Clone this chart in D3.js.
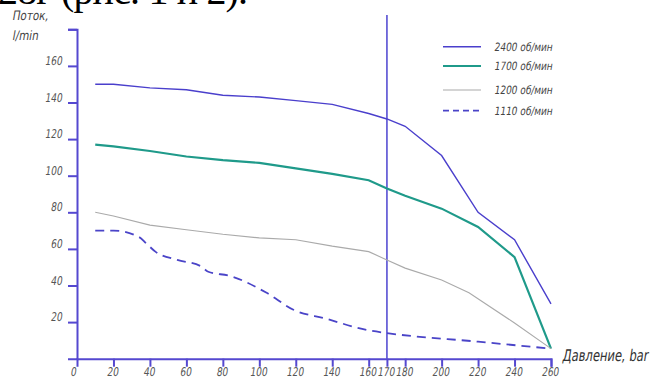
<!DOCTYPE html>
<html><head><meta charset="utf-8">
<script src="https://cdn.jsdelivr.net/npm/d3@7"></script>
<style>
html,body{margin:0;padding:0;background:#fff;}
svg{display:block;}
.t{font-family:"DejaVu Sans",sans-serif;}
</style></head>
<body><svg id="c" width="651" height="378"></svg>
<script>
const xTicks = [20,40,60,80,100,120,140,160,170,180,200,220,240,260];
const yTicks = [20,40,60,80,100,120,140,160];
const seriesNames = ["2400 об/мин","1700 об/мин","1200 об/мин","1110 об/мин"];
const s2400 = [[10,150],[20,150],[40,148],[60,147],[80,144],[100,143],[120,141],[140,139],[160,134],[170,131],[180,127],[200,111],[220,80],[240,65],[260,30]];
const s1700 = [[10,117],[20,116],[40,113.5],[60,110.5],[80,108.5],[100,107],[120,104],[140,101],[160,97.5],[170,93],[180,89],[200,82],[220,72],[240,55.5],[260,5.5]];
const s1200 = [[10,80],[20,78],[40,73],[60,70.5],[80,68],[100,66],[120,65],[140,61.5],[160,58.5],[170,54],[180,49.5],[200,43],[215,36],[240,19.5],[260,5.5]];
const s1110 = [[10,70],[20,70],[34,66.5],[38,63],[43,58.5],[55,54],[68,50.5],[72,47.5],[84,45.2],[104,36],[119,26.6],[136,22],[160,15.5],[170,14],[220,9.3],[260,5.5]];
const title = "28г (рис. 1 и 2).";

const svg = d3.select("#c");
const x = d3.scaleLinear().domain([0,260]).range([77,551]);
const y = d3.scaleLinear().domain([0,180]).range([358.7,29.3]);
const axisCol = "#5548d0";

function ntext(px, py, str, size, anchor, fill, sx){
  return svg.append("text").attr("class","t")
    .attr("transform",`translate(${px},${py}) scale(${sx||0.75},1) skewX(-12)`)
    .attr("text-anchor",anchor||"start").attr("font-size",size).attr("fill",fill).text(str);
}

// header text (cut off)
svg.append("text").attr("x",-2).attr("y",4).attr("font-family","Liberation Serif, Times New Roman, serif")
  .attr("font-size",40).attr("fill","#000").attr("textLength",250).attr("lengthAdjust","spacing").text(title);

// vertical marker at 170
svg.append("line").attr("x1",x(170)).attr("x2",x(170)).attr("y1",15).attr("y2",y(0))
  .attr("stroke","#6a62d8").attr("stroke-width",1.8);

// axes
const gy = svg.append("g").attr("transform",`translate(${x(0)},0)`)
  .call(d3.axisLeft(y).tickValues([...yTicks,180]).tickSize(9).tickFormat(""));
gy.select(".domain").attr("stroke",axisCol).attr("stroke-width",2);
gy.selectAll(".tick line").attr("stroke",axisCol).attr("stroke-width",2);
const gx = svg.append("g").attr("transform",`translate(0,${y(0)})`)
  .call(d3.axisBottom(x).tickValues(xTicks).tickSize(8).tickFormat(""));
gx.select(".domain").attr("stroke",axisCol).attr("stroke-width",2);
gx.selectAll(".tick line").attr("stroke",axisCol).attr("stroke-width",2);

// tick labels
yTicks.forEach(d=>ntext(62, y(d)-1, d, 12, "end", "#555"));
[0,...xTicks].forEach(d=>ntext(d===0?73:x(d)-1, 376, d, 12, "middle", "#555"));

ntext(12, 20, "Поток,", 13, "start", "#444", 0.8);
ntext(12, 40, "l/min", 13, "start", "#444", 0.8);
ntext(562, 361, "Давление, bar", 16, "start", "#333", 0.72);

// lines
const line = d3.line().x(d=>x(d[0])).y(d=>y(d[1]));
const smooth = d3.line().x(d=>x(d[0])).y(d=>y(d[1])).curve(d3.curveMonotoneX);
const styles = [
  {data:s2400,col:"#4a3fcc",w:1.4,dash:null,gen:line},
  {data:s1700,col:"#1f9a8a",w:2.2,dash:null,gen:line},
  {data:s1200,col:"#aaaaaa",w:1.1,dash:null,gen:line},
  {data:s1110,col:"#4a44c8",w:1.8,dash:"9,6",gen:smooth}
];
styles.forEach(s=>{
  svg.append("path").attr("d",s.gen(s.data)).attr("fill","none").attr("stroke",s.col)
    .attr("stroke-width",s.w).attr("stroke-dasharray",s.dash);
});

// legend
const ly = [46.7,66,90,110.7];
styles.forEach((s,i)=>{
  svg.append("line").attr("x1",443).attr("x2",481).attr("y1",ly[i]).attr("y2",ly[i])
    .attr("stroke",s.col).attr("stroke-width",s.w).attr("stroke-dasharray",s.dash?"6,4":null);
  ntext(494, ly[i]+4, seriesNames[i], 11.5, "start", "#444", 0.78);
});
</script></body></html>
